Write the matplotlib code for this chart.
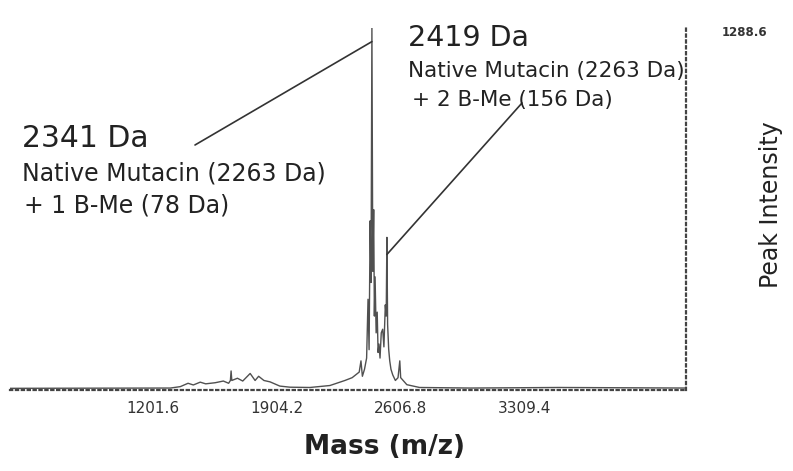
import matplotlib
matplotlib.use("Agg")
import matplotlib.pyplot as plt

# spectrum (m/z, intensity)
mz = [391, 1300, 1356, 1400, 1430, 1469, 1500, 1554, 1600, 1630, 1640, 1644, 1648,
      1680, 1710, 1752, 1780, 1800, 1830, 1865, 1920, 1978, 2091, 2204, 2289, 2330,
      2370, 2380, 2388, 2400, 2412, 2420, 2426, 2432, 2437, 2442, 2447, 2452, 2456,
      2460, 2466, 2472, 2477, 2482, 2488, 2495, 2503, 2510, 2518, 2523, 2527, 2531,
      2537, 2543, 2550, 2560, 2575, 2590, 2600, 2605, 2640, 2712, 3000, 3500, 4222]
intensity = [2, 3, 8, 20, 14, 24, 18, 22, 28, 20, 30, 64, 30,
             38, 28, 55, 30, 45, 30, 25, 10, 6, 5, 12, 30, 40,
             60, 100, 45, 70, 110, 320, 140, 600, 380, 1288.6, 420, 640, 260,
             400, 200, 274, 130, 160, 110, 200, 213, 150, 300, 260, 541, 230,
             142, 100, 70, 50, 30, 40, 100, 40, 15, 5, 3, 5, 3]

x_ticks = [1201.6, 1904.2, 2606.8, 3309.4]
y_max = 1288.6

peak1 = (2442, 1240)   # where the 2341 Da pointer lands
peak2 = (2527, 480)    # where the 2419 Da pointer lands

W, H = 793, 471
fig = plt.figure(figsize=(W / 100, H / 100), dpi=100)
ax = fig.add_axes([10 / W, 1 - 390 / H, 676 / W, 362 / H])

ax.plot(mz, intensity, color="#505050", lw=1.0)

ax.set_xlim(391, 4222)
ax.set_ylim(-4, y_max)
ax.set_xticks(x_ticks)
ax.set_xticklabels([f"{t:.1f}" for t in x_ticks], fontsize=11, color="#333333")
ax.set_yticks([])
ax.tick_params(axis="x", length=0, pad=8)

for s in ["top", "left"]:
    ax.spines[s].set_visible(False)
for s in ["bottom", "right"]:
    ax.spines[s].set_linestyle(":")
    ax.spines[s].set_linewidth(1.6)
    ax.spines[s].set_color("#444444")

def fp(x, y):
    # figure pixels measured from the top-left
    return (x, H - y)

# pointer lines
ax.annotate("", xy=peak1, xycoords="data", xytext=fp(195, 145), textcoords="figure pixels",
            arrowprops=dict(arrowstyle="-", color="#333333", lw=1.2, shrinkA=0, shrinkB=0))
ax.annotate("", xy=peak2, xycoords="data", xytext=fp(522, 103), textcoords="figure pixels",
            arrowprops=dict(arrowstyle="-", color="#333333", lw=1.2, shrinkA=0, shrinkB=0))

# left label
fig.text(22 / W, 1 - 147 / H, "2341 Da", fontsize=21.5, color="#222222")
fig.text(22 / W, 1 - 181 / H, "Native Mutacin (2263 Da)", fontsize=17, color="#222222")
fig.text(24 / W, 1 - 212 / H, "+ 1 B-Me (78 Da)", fontsize=17, color="#222222")

# right label
fig.text(408 / W, 1 - 46 / H, "2419 Da", fontsize=20.5, color="#222222")
fig.text(408 / W, 1 - 77 / H, "Native Mutacin (2263 Da)", fontsize=15.5, color="#222222")
fig.text(412 / W, 1 - 106 / H, "+ 2 B-Me (156 Da)", fontsize=15.5, color="#222222")

fig.text(722 / W, 1 - 36 / H, "1288.6", fontsize=8.5, fontweight="bold", color="#333333")
fig.text(771 / W, 1 - 205 / H, "Peak Intensity", fontsize=17, rotation=90,
         ha="center", va="center", color="#222222")
fig.text(385 / W, 1 - 447 / H, "Mass (m/z)", fontsize=19, fontweight="bold",
         ha="center", va="center", color="#222222")

fig.savefig("out.png", dpi=100)
